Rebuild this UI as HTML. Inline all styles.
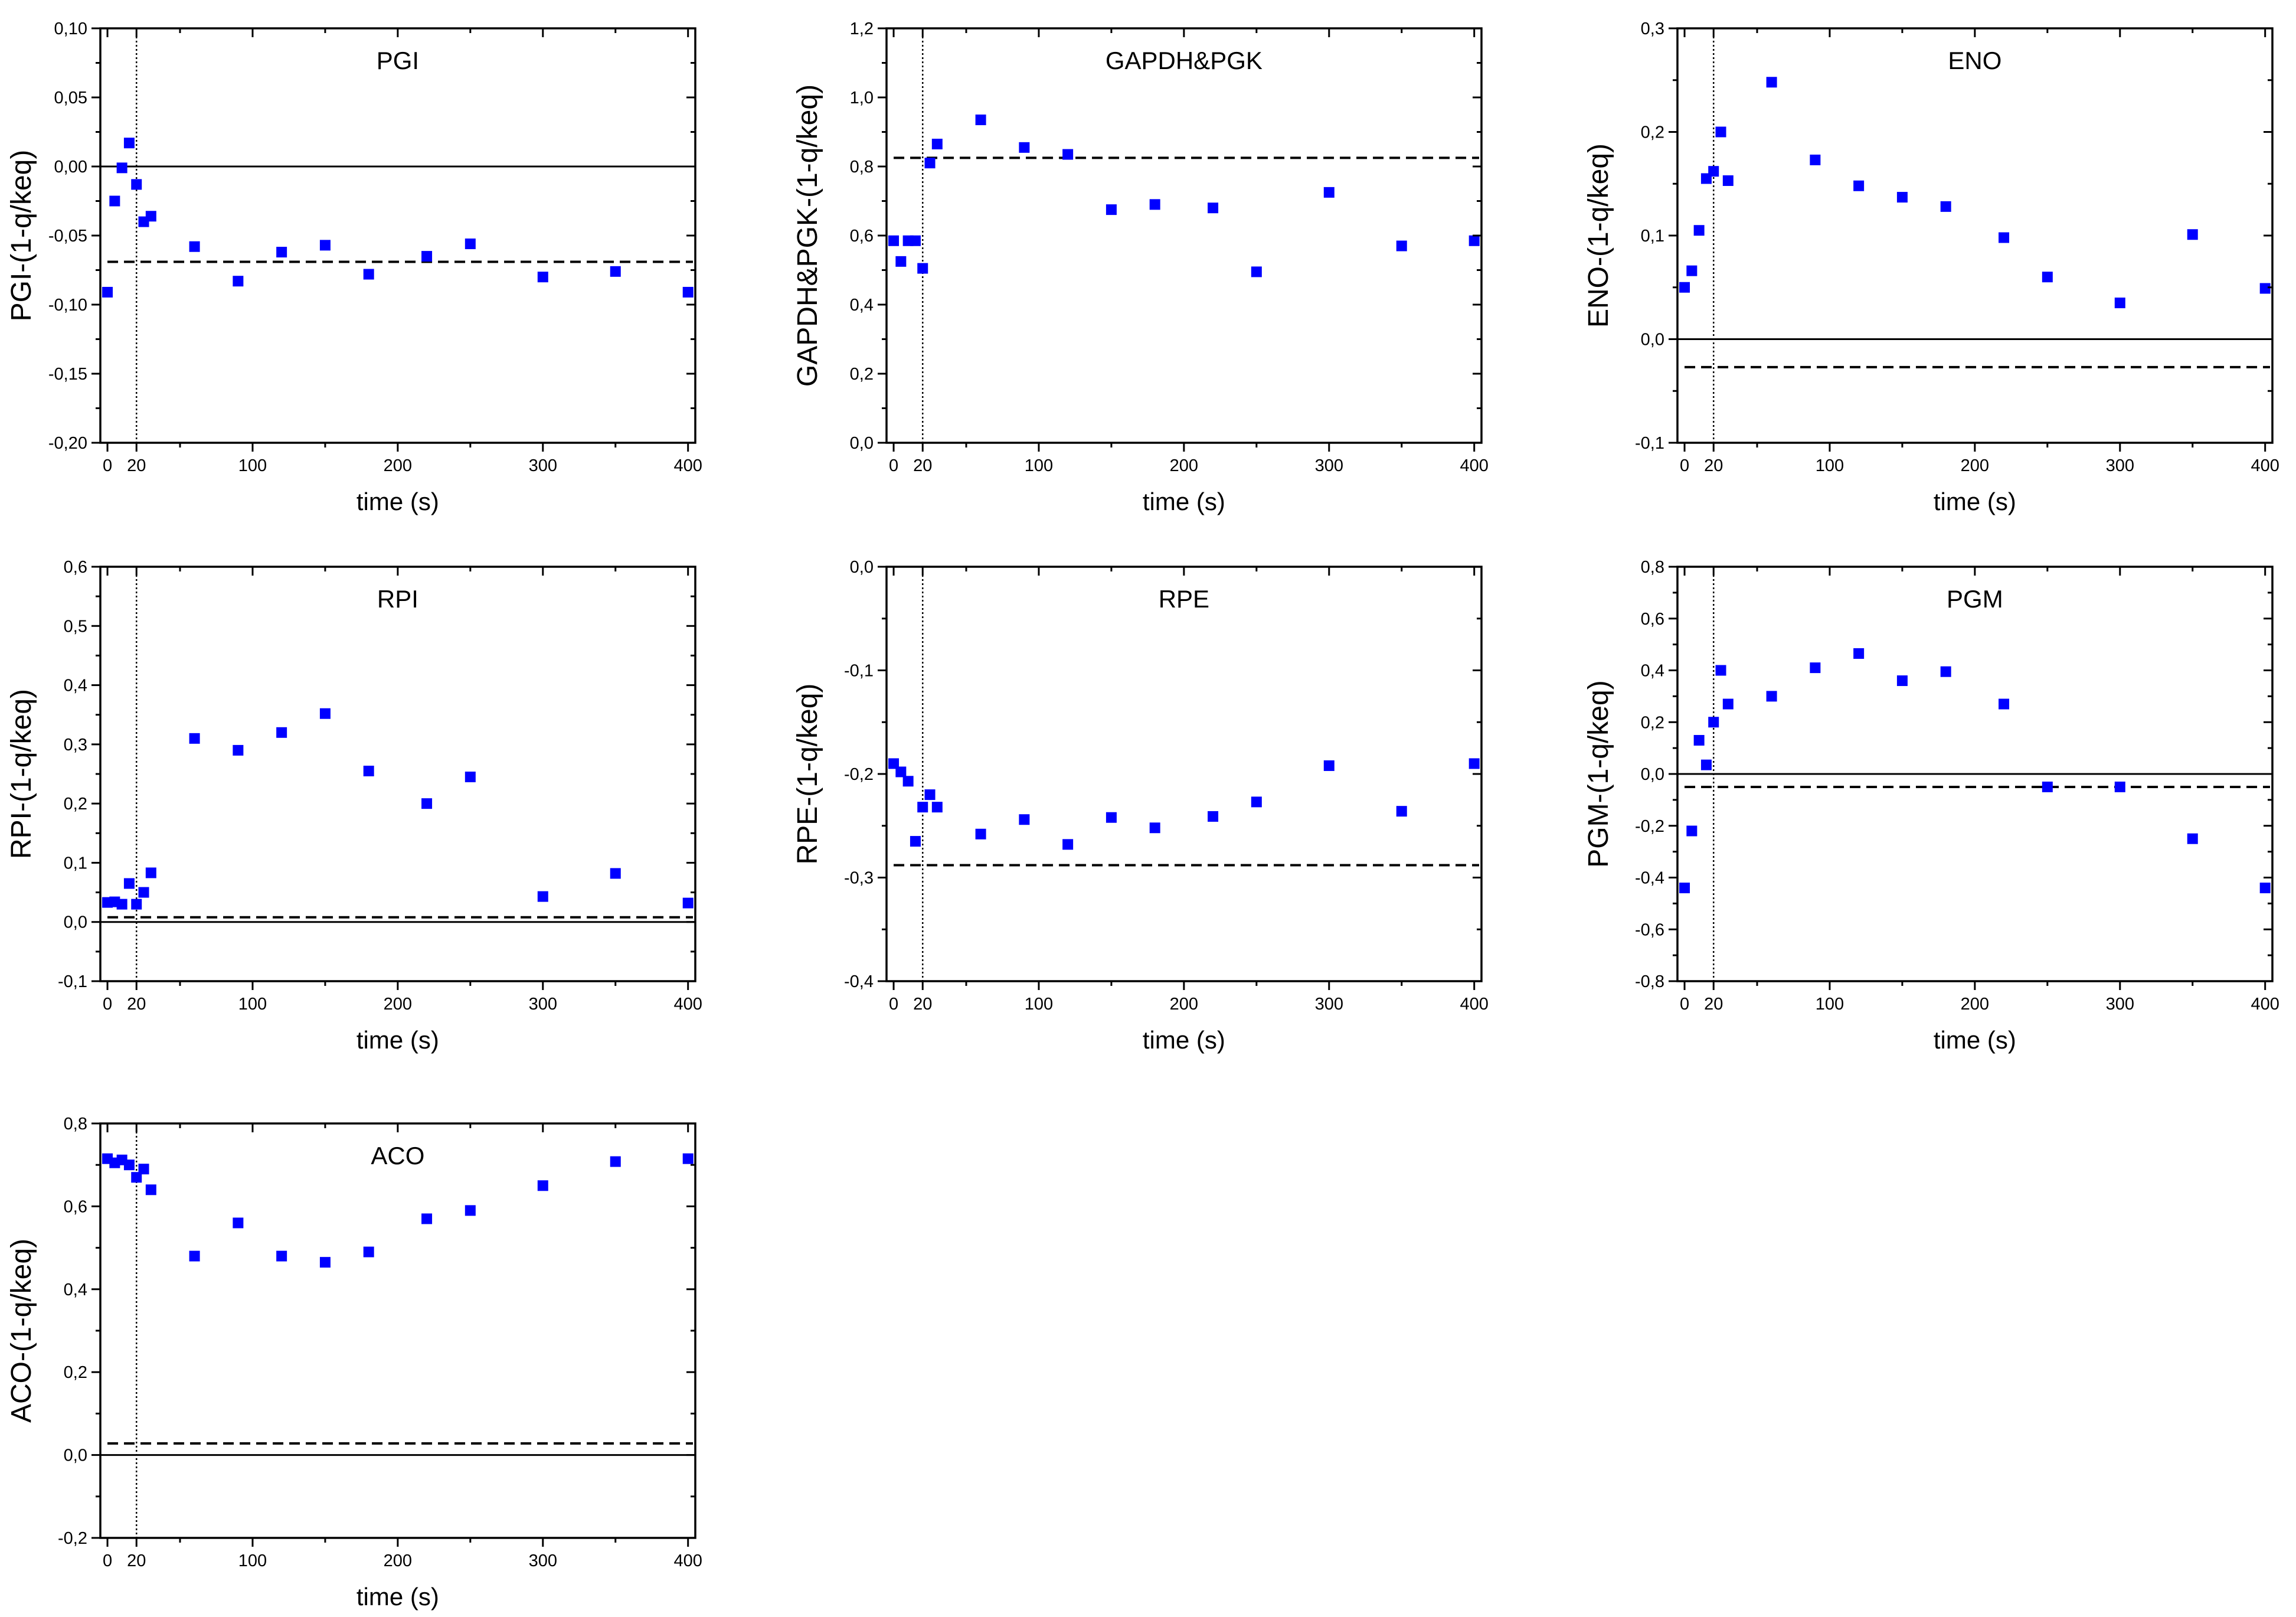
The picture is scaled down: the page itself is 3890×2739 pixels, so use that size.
<!DOCTYPE html>
<html><head><meta charset="utf-8"><style>
html,body{margin:0;padding:0;background:#fff;}
svg{display:block;font-family:"Liberation Sans",Arial,sans-serif;}
</style></head><body>
<svg id="fig" width="3890" height="2739" viewBox="0 0 3890 2739" xmlns="http://www.w3.org/2000/svg"></svg>
<script>
const times = [0,5,10,15,20,25,30,60,90,120,150,180,220,250,300,350,400];
const pgiValues = [-0.091,-0.025,-0.001,0.017,-0.013,-0.040,-0.036,-0.058,-0.083,-0.062,-0.057,-0.078,-0.065,-0.056,-0.080,-0.076,-0.091];
const gapdhValues = [0.585,0.525,0.585,0.585,0.505,0.81,0.865,0.935,0.855,0.835,0.675,0.69,0.68,0.495,0.725,0.57,0.585];
const enoValues = [0.050,0.066,0.105,0.155,0.162,0.200,0.153,0.248,0.173,0.148,0.137,0.128,0.098,0.060,0.035,0.101,0.049];
const rpiValues = [0.033,0.034,0.030,0.065,0.030,0.050,0.083,0.310,0.290,0.320,0.352,0.255,0.200,0.245,0.043,0.082,0.032];
const rpeValues = [-0.190,-0.198,-0.207,-0.265,-0.232,-0.220,-0.232,-0.258,-0.244,-0.268,-0.242,-0.252,-0.241,-0.227,-0.192,-0.236,-0.190];
const pgmValues = [-0.44,-0.22,0.13,0.035,0.20,0.40,0.27,0.30,0.41,0.465,0.36,0.395,0.27,-0.05,-0.05,-0.25,-0.44];
const acoValues = [0.715,0.705,0.712,0.700,0.670,0.690,0.640,0.480,0.560,0.480,0.465,0.490,0.570,0.590,0.650,0.708,0.715];
const xTickLabels = ["0","20","100","200","300","400"];
const xTickValues = [0,20,100,200,300,400];
const xMinorValues = [50,150,250,350];

const panels = [
 {name:"PGI", vals:pgiValues, ymin:-0.2, ymax:0.1, step:0.05, dec:2, dash:-0.069, zero:true, col:0,row:0},
 {name:"GAPDH&PGK", vals:gapdhValues, ymin:0, ymax:1.2, step:0.2, dec:1, dash:0.825, zero:false, col:1,row:0},
 {name:"ENO", vals:enoValues, ymin:-0.1, ymax:0.3, step:0.1, dec:1, dash:-0.027, zero:true, col:2,row:0},
 {name:"RPI", vals:rpiValues, ymin:-0.1, ymax:0.6, step:0.1, dec:1, dash:0.008, zero:true, col:0,row:1},
 {name:"RPE", vals:rpeValues, ymin:-0.4, ymax:0.0, step:0.1, dec:1, dash:-0.288, zero:false, col:1,row:1},
 {name:"PGM", vals:pgmValues, ymin:-0.8, ymax:0.8, step:0.2, dec:1, dash:-0.05, zero:true, col:2,row:1},
 {name:"ACO", vals:acoValues, ymin:-0.2, ymax:0.8, step:0.2, dec:1, dash:0.028, zero:true, col:0,row:2}
];
const colLeft=[170,1502,2842], rowTop=[48,960,1903], PW=1008, PH=702;
const XMIN=-4.9, XMAX=405;
const NS="http://www.w3.org/2000/svg";
const svg=document.getElementById('fig');
function el(tag,attrs,parent){const e=document.createElementNS(NS,tag);for(const k in attrs)e.setAttribute(k,attrs[k]);(parent||svg).appendChild(e);return e;}
function fmt(v,d){let s=Math.abs(v)<1e-9?(0).toFixed(d):v.toFixed(d);return s.replace('.',',');}

panels.forEach(p=>{
  const L=colLeft[p.col], T=rowTop[p.row], R=L+PW, B=T+PH;
  const sx=v=>L+(v-XMIN)/(XMAX-XMIN)*PW;
  const sy=v=>B-(v-p.ymin)/(p.ymax-p.ymin)*PH;
  const key=p.name.toLowerCase().replace(/[^a-z]/g,'');
  const g=el('g',{});
  
  
  if(p.zero){const z=el('line',{x1:L,x2:R,y1:sy(0),y2:sy(0),stroke:'#000','stroke-width':3},g);
    
    }
  const d=el('line',{x1:sx(0),x2:R-4,y1:sy(p.dash),y2:sy(p.dash),stroke:'#000','stroke-width':4,'stroke-dasharray':'18,10'},g);
  
  
  const v=el('line',{x1:sx(20),x2:sx(20),y1:T,y2:B,stroke:'#000','stroke-width':2.5,'stroke-dasharray':'3,4'},g);
  
  
  p.vals.forEach((val,i)=>{
    const r=el('rect',{x:sx(times[i])-9,y:sy(val)-9,width:18,height:18,fill:'#0000ff'},g);
    
    
  });
  const f=el('rect',{x:L,y:T,width:PW,height:PH,fill:'none',stroke:'#000','stroke-width':3.5},g);
  
  
  xTickValues.forEach((tv,i)=>{
    const x=sx(tv);
    el('line',{x1:x,x2:x,y1:B,y2:B+15,stroke:'#000','stroke-width':3},g);
    el('line',{x1:x,x2:x,y1:T,y2:T+15,stroke:'#000','stroke-width':3},g);
    const t=el('text',{x:x,y:B+48,'font-size':29,'text-anchor':'middle'},g);
    t.textContent=xTickLabels[i];
    
    
  });
  xMinorValues.forEach(tv=>{const x=sx(tv);
    el('line',{x1:x,x2:x,y1:B,y2:B+8,stroke:'#000','stroke-width':3},g);
    el('line',{x1:x,x2:x,y1:T,y2:T+8,stroke:'#000','stroke-width':3},g);});
  const n=Math.round((p.ymax-p.ymin)/p.step);
  for(let k=0;k<=n;k++){
    const yv=p.ymin+k*p.step, y=sy(yv);
    el('line',{x1:L-15,x2:L,y1:y,y2:y,stroke:'#000','stroke-width':3},g);
    el('line',{x1:R-15,x2:R,y1:y,y2:y,stroke:'#000','stroke-width':3},g);
    const t=el('text',{x:L-22,y:y+10,'font-size':29,'text-anchor':'end'},g);
    t.textContent=fmt(yv,p.dec);
    
    
    if(k<n){const ym=sy(yv+p.step/2);
      el('line',{x1:L-8,x2:L,y1:ym,y2:ym,stroke:'#000','stroke-width':3},g);
      el('line',{x1:R-8,x2:R,y1:ym,y2:ym,stroke:'#000','stroke-width':3},g);}
  }
  const title=el('text',{x:sx(200),y:T+69,'font-size':42,'text-anchor':'middle'},g);
  title.textContent=p.name;
  
  
  const xt=el('text',{x:sx(200),y:B+114,'font-size':42,'text-anchor':'middle'},g);
  xt.textContent='time (s)';
  
  
  const yc=(T+B)/2, yx=L-118;
  const yt=el('text',{x:yx,y:yc,'font-size':48,'text-anchor':'middle',transform:`rotate(-90 ${yx} ${yc})`},g);
  yt.textContent=p.name+'-(1-q/keq)';
  
  
});
</script>
</body></html>
